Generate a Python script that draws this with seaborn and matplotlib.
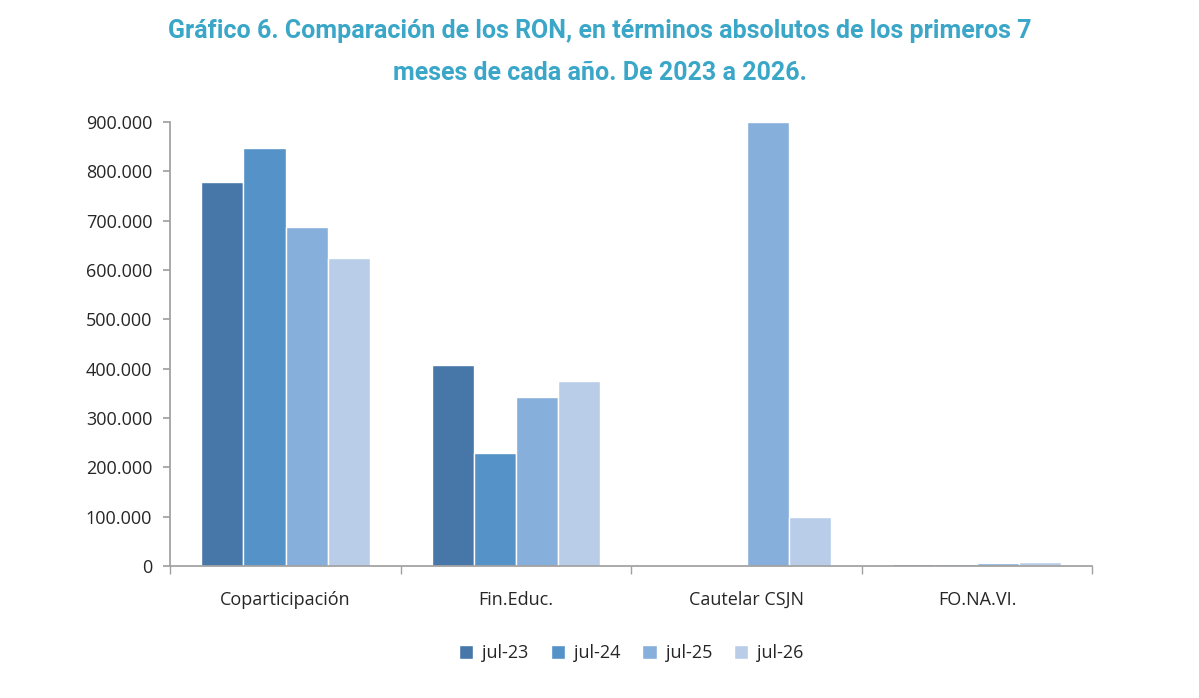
import matplotlib
matplotlib.use("Agg")
import matplotlib.pyplot as plt
import seaborn as sns
import pandas as pd
from matplotlib.ticker import FuncFormatter, FixedLocator

categories = ["Coparticipación", "Fin.Educ.", "Cautelar CSJN", "FO.NA.VI."]
series = ["jul-23", "jul-24", "jul-25", "jul-26"]
v23 = [779000, 408000, 0, 5000]
v24 = [847000, 229000, 0, 4000]
v25 = [687000, 342000, 900000, 7000]
v26 = [624000, 375000, 99000, 8000]
colors = ["#4677a8", "#5592c8", "#87afdc", "#b9cde8"]

rows = []
for s, vals in zip(series, [v23, v24, v25, v26]):
    for c, v in zip(categories, vals):
        rows.append({"cat": c, "serie": s, "val": v})
df = pd.DataFrame(rows)

sns.set_theme(style="white")
plt.rcParams['font.family'] = ['Open Sans', 'DejaVu Sans']
fig = plt.figure(figsize=(11.99, 6.98), dpi=100)
ax = fig.add_axes([0.142, 0.189, 0.769, 0.636])
sns.barplot(data=df, x="cat", y="val", hue="serie", palette=colors, width=0.73,
            saturation=1, ax=ax, legend=True)
ax.set_ylim(0, 900000)
ax.set_xlim(-0.5, 3.5)
ax.set_yticks(range(0, 900001, 100000))
ax.yaxis.set_major_formatter(FuncFormatter(lambda v, p: f"{int(v):,}".replace(",", ".")))
ax.set_xlabel(""); ax.set_ylabel("")
for s in ["top", "right"]:
    ax.spines[s].set_visible(False)
for s in ["left", "bottom"]:
    ax.spines[s].set_color("#a0a0a0")
ax.tick_params(axis="y", labelsize=13, left=True, length=5, color="#a0a0a0", pad=8)
ax.tick_params(axis="x", labelsize=13, bottom=False, pad=12)
ax.xaxis.set_minor_locator(FixedLocator([-0.5, 0.5, 1.5, 2.5, 3.5]))
ax.tick_params(axis="x", which="minor", bottom=True, length=6, color="#a0a0a0")
ax.legend(loc="upper center", bbox_to_anchor=(0.5, -0.14), ncol=4, frameon=False,
          fontsize=13, handlelength=0.8, handleheight=0.8, columnspacing=1.2, handletextpad=0.5)
fig.text(0.5, 0.955, "Gráfico 6. Comparación de los RON, en términos absolutos de los primeros 7",
         ha="center", va="center", fontsize=18, fontweight="bold", color="#3aa6c8", family=["Roboto", "DejaVu Sans"])
fig.text(0.5, 0.895, "meses de cada año. De 2023 a 2026.",
         ha="center", va="center", fontsize=18, fontweight="bold", color="#3aa6c8", family=["Roboto", "DejaVu Sans"])
fig.savefig("out.png", dpi=100)
